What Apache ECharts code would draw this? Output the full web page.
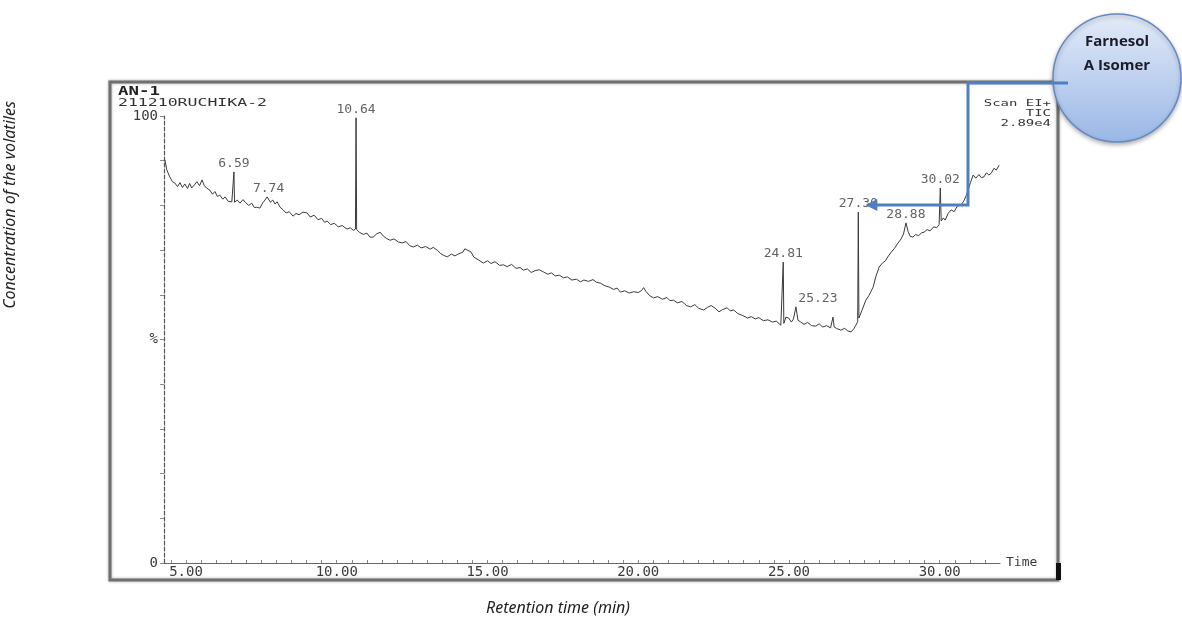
<!DOCTYPE html>
<html>
<head>
<meta charset="utf-8">
<script src="https://cdn.jsdelivr.net/npm/echarts@6/dist/echarts.min.js"></script>
<style>
html,body{margin:0;padding:0;background:#fff;}
#chart{width:1182px;height:623px;}
</style>
</head>
<body>
<div id="chart"></div>
<script>
// Retention time (min) of the TIC trace
const traceTimes = [4.30,4.36,4.46,4.55,4.63,4.72,4.80,4.88,4.96,5.05,5.12,5.19,5.28,5.36,5.45,5.53,5.60,5.68,5.79,5.88,5.96,6.04,6.12,6.22,6.30,6.40,6.52,6.57,6.59,6.61,6.70,6.79,6.89,6.98,7.08,7.18,7.27,7.35,7.45,7.55,7.62,7.69,7.74,7.80,7.88,7.95,8.02,8.12,8.22,8.32,8.42,8.55,8.65,8.75,8.88,9.02,9.12,9.25,9.38,9.50,9.60,9.68,9.80,9.92,10.05,10.18,10.34,10.45,10.55,10.62,10.64,10.66,10.75,10.88,11.00,11.10,11.21,11.32,11.44,11.55,11.65,11.77,11.90,12.05,12.17,12.30,12.42,12.54,12.68,12.80,12.95,13.10,13.20,13.33,13.45,13.55,13.67,13.80,13.92,14.05,14.18,14.25,14.33,14.45,14.55,14.70,14.86,15.00,15.12,15.25,15.40,15.53,15.65,15.80,15.95,16.08,16.19,16.32,16.45,16.58,16.72,16.86,17.00,17.12,17.25,17.38,17.52,17.65,17.80,17.95,18.08,18.20,18.35,18.50,18.62,18.75,18.90,19.05,19.18,19.30,19.41,19.55,19.70,19.85,20.00,20.10,20.18,20.25,20.38,20.51,20.65,20.80,20.95,21.05,21.17,21.30,21.45,21.60,21.74,21.88,22.00,22.17,22.30,22.42,22.55,22.68,22.80,22.95,23.05,23.17,23.30,23.45,23.63,23.75,23.88,24.00,24.15,24.30,24.45,24.58,24.73,24.79,24.81,24.83,24.90,24.99,25.08,25.15,25.23,25.30,25.39,25.50,25.62,25.75,25.89,26.00,26.12,26.25,26.38,26.44,26.46,26.50,26.60,26.72,26.85,26.95,27.06,27.15,27.22,27.28,27.30,27.32,27.42,27.55,27.65,27.79,27.88,27.99,28.10,28.20,28.28,28.40,28.50,28.62,28.72,28.80,28.88,28.95,29.02,29.11,29.20,29.30,29.40,29.48,29.58,29.68,29.80,29.90,29.98,30.00,30.02,30.05,30.12,30.18,30.28,30.38,30.48,30.58,30.71,30.80,30.88,30.94,31.02,31.11,31.20,31.30,31.38,31.47,31.55,31.63,31.71,31.80,31.88,31.97];
// Relative abundance (%)
const traceValues = [90.2,88.0,86.4,85.3,85.0,84.2,85.1,84.0,84.8,83.8,84.9,83.9,84.6,85.3,84.4,85.7,84.5,83.9,83.4,82.5,83.1,82.0,82.3,81.4,81.9,80.9,80.8,80.6,87.5,80.7,81.2,80.5,81.3,80.6,80.0,80.5,79.5,79.6,79.4,80.6,81.2,81.9,81.5,80.7,81.2,80.3,80.8,79.6,79.0,78.3,78.6,77.6,78.2,77.9,78.5,78.3,77.4,77.8,76.8,77.1,76.2,76.5,75.7,76.0,75.2,75.5,74.7,75.0,74.4,74.7,99.6,74.6,74.0,73.5,73.8,72.9,72.9,73.6,74.0,73.1,72.6,72.2,72.5,71.8,71.6,71.9,71.0,70.7,71.1,70.5,70.8,70.2,70.6,70.0,69.2,68.8,68.5,69.1,68.7,69.2,69.5,70.3,70.0,69.6,68.4,67.8,67.1,67.6,67.0,67.4,66.6,66.7,66.3,66.8,65.9,66.1,65.5,65.8,65.0,65.4,65.6,65.1,64.6,64.9,64.2,64.4,63.8,64.0,63.3,63.5,62.9,63.3,63.0,63.4,62.8,62.6,62.0,61.7,61.2,61.5,60.6,60.9,60.4,60.7,60.5,60.9,61.6,60.8,59.8,59.3,59.6,59.0,59.4,58.7,58.8,58.2,58.5,57.6,57.3,57.8,57.0,56.6,57.2,57.6,57.0,56.2,56.7,57.1,56.4,56.6,55.8,55.4,54.8,55.1,54.6,54.9,54.2,54.4,53.9,54.1,53.2,53.4,67.3,53.6,55.0,54.8,53.9,54.6,57.3,54.3,53.9,53.4,53.8,53.1,53.0,53.5,52.8,53.1,52.6,52.9,55.0,52.8,52.4,52.1,52.5,51.9,51.7,52.4,53.2,54.0,78.5,54.8,56.5,58.8,59.8,61.7,64.0,66.2,67.1,67.6,68.5,69.6,70.4,71.6,72.5,73.6,76.1,74.2,73.1,72.9,73.5,73.2,73.9,74.0,74.6,74.3,75.2,75.0,75.7,76.0,83.9,76.5,77.2,76.7,78.2,79.0,78.6,79.8,80.1,81.0,82.2,83.4,85.1,86.8,86.1,86.9,86.2,86.4,87.3,86.8,87.2,88.3,87.9,89.0];
// Labelled peaks
const peakTimes = [6.59, 7.74, 10.64, 24.81, 25.23, 27.30, 28.88, 30.02];
const peakTops  = [87.5, 81.9, 99.6, 67.3, 57.3, 78.5, 76.1, 83.9];
const peakLabels = ['6.59','7.74','10.64','24.81','25.23','27.30','28.88','30.02'];
// Axis tick labels
const xTickLabels = [5, 10, 15, 20, 25, 30];
const yTickLabels = {0: '0', 50: '%', 100: '100'};
// Header texts of the print-out
const headerLeft = ['AN-1', '211210RUCHIKA-2'];
const headerRight = ['Scan EI+', 'TIC', '2.89e4'];

const chart = echarts.init(document.getElementById('chart'), null, {renderer: 'canvas'});

const minorTicks = [];
for (let t = 4.5; t <= 31.9; t += 0.5) minorTicks.push(+t.toFixed(2));

const traceData = traceTimes.map((t, i) => [t, traceValues[i]]);
const peakData = peakTimes.map((t, i) => ({
  value: [t, peakTops[i]],
  name: peakLabels[i],
  label: peakLabels[i] === '25.23' ? {offset: [22, 0]} : {}
}));

const mono = 'DejaVu Sans Mono';

chart.setOption({
  animation: false,
  backgroundColor: '#fff',
  grid: {left: 164, right: 182, top: 116, bottom: 60, containLabel: false},
  xAxis: {
    type: 'value',
    min: 4.27,
    max: 32.0,
    splitLine: {show: false},
    axisLine: {show: true, lineStyle: {color: '#666', width: 1}},
    axisTick: {show: true, inside: true, length: 3, customValues: minorTicks, lineStyle: {color: '#888'}},
    axisLabel: {
      customValues: xTickLabels,
      formatter: v => v.toFixed(2),
      fontFamily: mono, fontSize: 14, color: '#3a3a3a', margin: 2
    },
    name: 'Time',
    nameLocation: 'end',
    nameGap: 6,
    nameTextStyle: {fontFamily: mono, fontSize: 13, color: '#3a3a3a', verticalAlign: 'middle'}
  },
  yAxis: {
    type: 'value',
    min: 0,
    max: 100,
    interval: 10,
    splitLine: {show: false},
    axisLine: {show: true, lineStyle: {color: '#555', width: 1.2, type: [4, 2]}},
    axisTick: {show: true, length: 4, lineStyle: {color: '#888'}},
    axisLabel: {
      formatter: v => (yTickLabels[v] !== undefined ? yTickLabels[v] : ''),
      fontFamily: mono, fontSize: 14, color: '#3a3a3a', margin: 6
    }
  },
  series: [
    {
      type: 'line',
      data: traceData,
      showSymbol: false,
      lineStyle: {color: '#3a3a3a', width: 1},
      z: 3
    },
    {
      type: 'scatter',
      data: peakData,
      symbolSize: 0,
      label: {
        show: true,
        position: 'top',
        distance: 2,
        formatter: p => p.name,
        fontFamily: mono, fontSize: 13, color: '#3a3a3a'
      },
      z: 4
    }
  ]
});

// annotation positions derived from the data scale
const tip = chart.convertToPixel({gridIndex: 0}, [27.30, 78.5]);
const tipX = tip[0] + 7, tipY = tip[1] - 7;

const rightHeader = headerRight.map((txt, i) => ({
  type: 'text', x: 1051, y: 104 + i * 10, scaleX: 1.55,
  style: {text: txt, fontFamily: mono, fontSize: 9, align: 'right', verticalAlign: 'middle', fill: '#333'}
}));

chart.setOption({
  graphic: [
    // frame of the chromatogram print-out
    {type: 'rect', shape: {x: 110, y: 82, width: 948, height: 498},
     style: {fill: 'none', stroke: '#707070', lineWidth: 3, shadowBlur: 3, shadowColor: 'rgba(0,0,0,0.35)'}, z: 1, silent: true},
    {type: 'rect', shape: {x: 1056, y: 563, width: 5, height: 17}, style: {fill: '#111'}, z: 2},
    // headers (stretched print-out lettering)
    {type: 'text', x: 118, y: 86, scaleX: 1.45,
     style: {text: headerLeft[0], fontFamily: mono, fontSize: 12, fontWeight: 'bold', fill: '#222'}},
    {type: 'text', x: 118, y: 98, scaleX: 1.5,
     style: {text: headerLeft[1], fontFamily: mono, fontSize: 11, fill: '#333'}},
    ...rightHeader,
    // axis titles
    {type: 'text', x: 10, y: 205, rotation: Math.PI / 2,
     style: {text: 'Concentration of the volatiles', fontFamily: 'Noto Sans', fontStyle: 'italic', fontSize: 16, fill: '#222', align: 'center', verticalAlign: 'middle'}},
    {type: 'text', x: 558, y: 608,
     style: {text: 'Retention time (min)', fontFamily: 'Noto Sans', fontStyle: 'italic', fontSize: 16, fill: '#222', align: 'center', verticalAlign: 'middle'}},
    // callout circle
    {type: 'circle', shape: {cx: 1117, cy: 78, r: 64}, z: 10,
     style: {
       fill: new echarts.graphic.LinearGradient(0, 0, 0, 1, [
         {offset: 0, color: '#e3ebf8'}, {offset: 1, color: '#9ab7e6'}
       ]),
       stroke: '#6488c4', lineWidth: 1.5,
       shadowBlur: 4, shadowColor: 'rgba(0,0,0,0.3)', shadowOffsetY: 2
     }},
    {type: 'text', x: 1117, y: 42, z: 12,
     style: {text: 'Farnesol', fontFamily: 'Open Sans', fontWeight: 'bold', fontSize: 15, fill: '#1b1b2a', align: 'center', verticalAlign: 'middle'}},
    {type: 'text', x: 1117, y: 66, z: 12,
     style: {text: 'A Isomer', fontFamily: 'Open Sans', fontWeight: 'bold', fontSize: 15, fill: '#1b1b2a', align: 'center', verticalAlign: 'middle'}},
    // elbow connector arrow
    {type: 'polyline', z: 11,
     shape: {points: [[1068, 83], [968, 83], [968, tipY], [tipX + 10, tipY]]},
     style: {stroke: '#4f7fbf', lineWidth: 3, fill: 'none'}},
    {type: 'polygon', z: 11,
     shape: {points: [[tipX, tipY], [tipX + 12, tipY - 6], [tipX + 12, tipY + 6]]},
     style: {fill: '#4f7fbf'}}
  ]
});
</script>
</body>
</html>
